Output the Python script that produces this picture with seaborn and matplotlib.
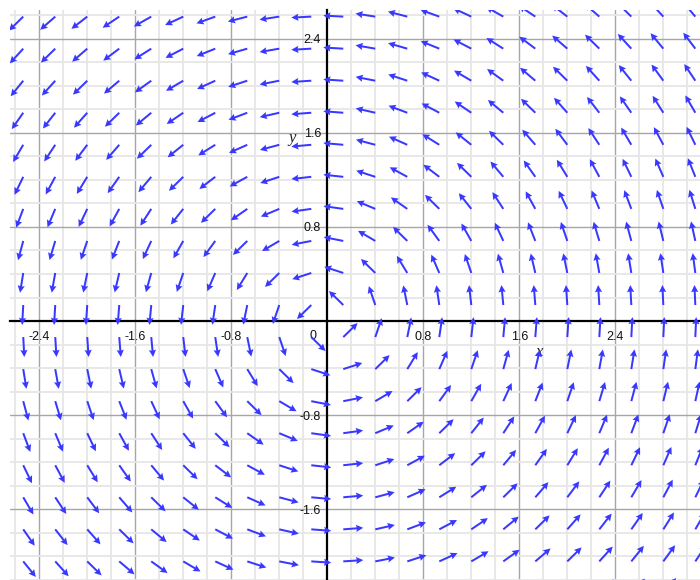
import numpy as np
import matplotlib
matplotlib.use("Agg")
import matplotlib.pyplot as plt
import seaborn as sns
from matplotlib.ticker import MultipleLocator

# ---- data -------------------------------------------------------------
# sample points of the direction field (arrow tails), in data units
x_step = 0.2667
y_step = 0.2725
col_index = list(range(-10, 12))
row_index = list(range(-9, 10))
x_samples = [(k + 0.5) * x_step for k in col_index]
y_samples = [(j + 0.5) * y_step for j in row_index]

# axis ticks / labels
x_ticks = [-2.4, -1.6, -0.8, 0.8, 1.6, 2.4]
x_tick_labels = ["-2.4", "-1.6", "-0.8", "0.8", "1.6", "2.4"]
y_ticks = [-1.6, -0.8, 0.8, 1.6, 2.4]
y_tick_labels = ["-1.6", "-0.8", "0.8", "1.6", "2.4"]
x_range = (-2.644, 3.106)
y_range = (-2.202, 2.645)

# ---- style ------------------------------------------------------------
sns.set_theme(style="white")
plt.rcParams["font.family"] = ["Liberation Sans", "DejaVu Sans"]

fig = plt.figure(figsize=(7, 5.8), dpi=100)
ax = fig.add_axes([10 / 700, 0, 690 / 700, 570 / 580])
ax.set_facecolor("white")
ax.set_xlim(*x_range)
ax.set_ylim(*y_range)

# field F(x, y) = (-y, x), drawn as unit-length direction arrows
X, Y = np.meshgrid(x_samples, y_samples)
U = -Y
V = X
N = np.hypot(U, V)
U = U / N
V = V / N
ax.quiver(X, Y, U, V, pivot="tail", angles="uv",
          scale_units="inches", scale=5.0,
          units="dots", width=2.0, headwidth=3.6, headlength=3.6,
          headaxislength=3.2, color="#3838ff", zorder=4)

# grid
ax.xaxis.set_minor_locator(MultipleLocator(0.2))
ax.yaxis.set_minor_locator(MultipleLocator(0.2))
ax.set_xticks(x_ticks, x_tick_labels)
ax.set_yticks(y_ticks, y_tick_labels)
ax.grid(which="minor", color="#e6e6e6", lw=1.3, zorder=0)
ax.grid(which="major", color="#a6a6a6", lw=1.0, zorder=1)
ax.set_axisbelow(True)

# axes through the origin
for s in ["top", "right"]:
    ax.spines[s].set_visible(False)
for s in ["left", "bottom"]:
    ax.spines[s].set_position(("data", 0))
    ax.spines[s].set_color("black")
    ax.spines[s].set_linewidth(1.6)
    ax.spines[s].set_zorder(3)

ax.tick_params(which="major", direction="inout", length=8, width=1.3,
               color="black", labelsize=9, labelcolor="#111111")
ax.tick_params(which="minor", direction="inout", length=5, width=1.2,
               color="black")
ax.tick_params(axis="x", which="major", pad=3)
ax.tick_params(axis="y", which="major", pad=0.5)

ax.annotate("0", xy=(0, 0), xytext=(-14, -15), textcoords="offset pixels",
            ha="center", va="center", fontsize=9, color="#111111")
ax.text(1.764, -0.264, "x", fontsize=12, style="italic",
        family=["Liberation Serif", "DejaVu Serif"], ha="center", va="center")
ax.text(-0.297, 1.56, "y", fontsize=12, style="italic",
        family=["Liberation Serif", "DejaVu Serif"], ha="center", va="center")

fig.savefig("out.png", dpi=100, facecolor="white")
